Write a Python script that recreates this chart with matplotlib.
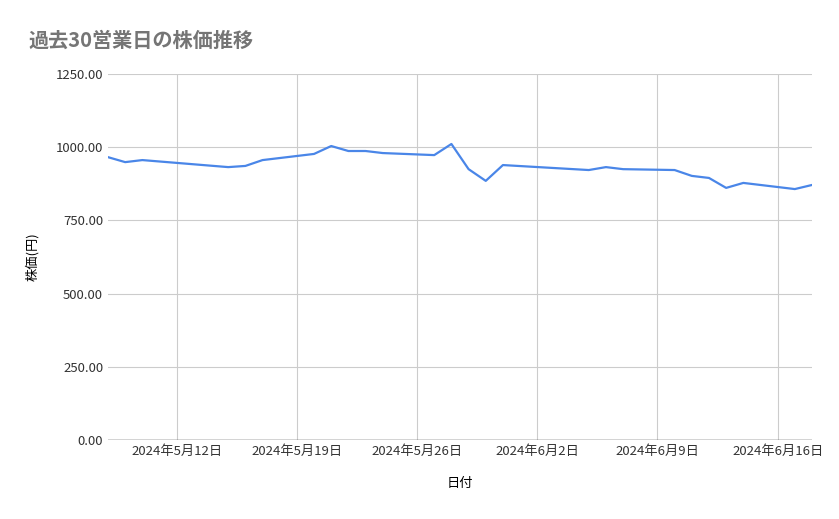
import matplotlib
matplotlib.use("Agg")
import matplotlib.pyplot as plt
import matplotlib.dates as mdates
import pandas as pd

plt.rcParams['font.family'] = ['Noto Sans CJK JP', 'DejaVu Sans']

dates = ["2024-05-08","2024-05-09","2024-05-10","2024-05-15","2024-05-16","2024-05-17",
         "2024-05-20","2024-05-21","2024-05-22","2024-05-23","2024-05-24","2024-05-27",
         "2024-05-28","2024-05-29","2024-05-30","2024-05-31","2024-06-05","2024-06-06",
         "2024-06-07","2024-06-10","2024-06-11","2024-06-12","2024-06-13","2024-06-14",
         "2024-06-17","2024-06-18"]
prices = [966,949,956,932,936,956,977,1004,987,987,980,973,1011,925,885,939,922,932,
          925,922,902,895,861,878,857,871]
tick_dates = ["2024-05-12","2024-05-19","2024-05-26","2024-06-02","2024-06-09","2024-06-16"]
yticks = [0,250,500,750,1000,1250]

d = pd.to_datetime(dates)
td = pd.to_datetime(tick_dates)

fig = plt.figure(figsize=(8.39,5.19), dpi=100)
ax = fig.add_axes([108/839, 1-440/519, (812-108)/839, (440-74)/519])
ax.plot(d, prices, color='#4a86e8', lw=1.6)
ax.set_xlim(d[0], d[-1])
ax.set_ylim(0,1250)
ax.set_yticks(yticks)
ax.set_yticklabels([f"{v:.2f}" for v in yticks])
ax.set_xticks(td)
ax.set_xticklabels([f"{t.year}年{t.month}月{t.day}日" for t in td])
ax.grid(True, color='#cccccc', lw=0.8)
ax.set_axisbelow(True)
for s in ax.spines.values():
    s.set_visible(False)
ax.axhline(0, color='#333333', lw=1)
ax.tick_params(length=0, labelsize=9.5, colors='#333333')
ax.set_xlabel("日付", fontsize=9.5, labelpad=14)
ax.set_ylabel("株価(円)", fontsize=9.5, labelpad=12)
fig.text(28/839, 1-40/519, "過去30営業日の株価推移", fontsize=14.5, color='#757575', va='center', fontweight='bold')
fig.savefig("out.png", dpi=100)
